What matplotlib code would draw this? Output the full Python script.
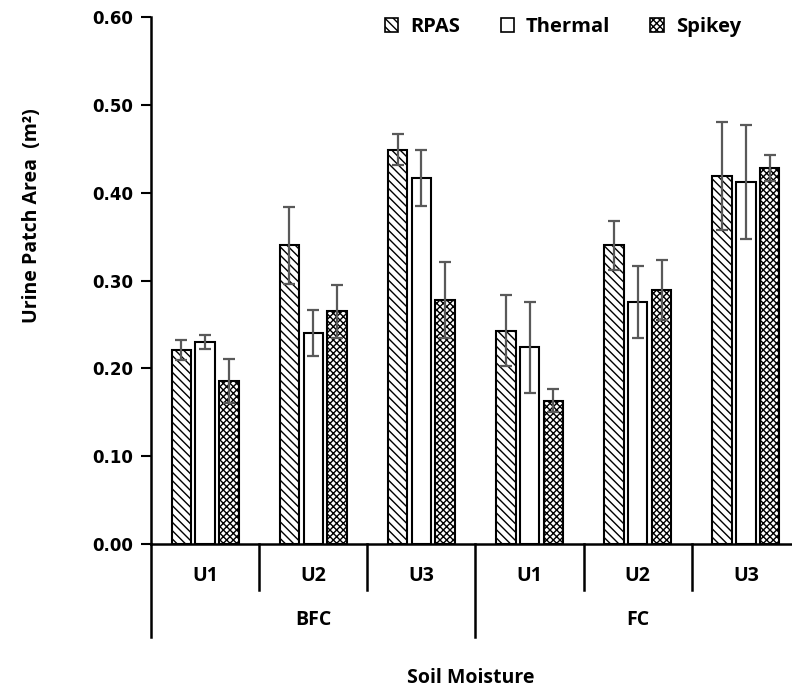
import numpy as np
import matplotlib
matplotlib.use("Agg")
import matplotlib.pyplot as plt
from matplotlib.patches import Patch
from matplotlib.transforms import blended_transform_factory

# data
moisture = ["BFC", "FC"]
urine = ["U1", "U2", "U3"]
series = ["RPAS", "Thermal", "Spikey"]

rpas = [0.221, 0.340, 0.449, 0.243, 0.340, 0.419]
thermal = [0.230, 0.240, 0.417, 0.224, 0.276, 0.412]
spikey = [0.186, 0.265, 0.278, 0.163, 0.289, 0.428]

rpas_err = [0.011, 0.044, 0.018, 0.040, 0.028, 0.061]
thermal_err = [0.008, 0.026, 0.032, 0.052, 0.041, 0.065]
spikey_err = [0.025, 0.030, 0.043, 0.013, 0.034, 0.015]

plt.rcParams['hatch.linewidth'] = 1.0
lab_font = ['Open Sans', 'DejaVu Sans']

fig = plt.figure(figsize=(7.92, 6.93), dpi=100)
ax = fig.add_axes([151 / 792, 1 - 544 / 693, 649 / 792, 527 / 693])

x = np.arange(len(rpas))
w = 0.18
step = 0.22
styles = [
    dict(facecolor="white", hatch="\\\\\\\\"),
    dict(facecolor="white", hatch=None),
    dict(facecolor="white", hatch="xxxxx"),
]
vals = [rpas, thermal, spikey]
errs = [rpas_err, thermal_err, spikey_err]

for i in range(3):
    xi = x + (i - 1) * step
    ax.bar(xi, vals[i], width=w, edgecolor="black", linewidth=1.5, zorder=2, **styles[i])
    ax.errorbar(xi, vals[i], yerr=errs[i], fmt="none", ecolor="#595959",
                elinewidth=1.6, capsize=4, capthick=1.6, zorder=3)

ax.set_xlim(-0.5, 5.5)
ax.set_ylim(0, 0.6)
ax.set_yticks(np.arange(0, 0.61, 0.1))
ax.set_yticklabels(["%.2f" % v for v in np.arange(0, 0.61, 0.1)],
                   fontsize=12, fontweight="bold", family="DejaVu Sans")
ax.tick_params(axis="y", direction="out", length=7, width=1.5, pad=6)
ax.set_xticks([])
for s in ["top", "right"]:
    ax.spines[s].set_visible(False)
ax.spines["left"].set_linewidth(1.8)
ax.spines["bottom"].set_linewidth(1.8)

# multi-level category axis
tr = blended_transform_factory(ax.transData, ax.transAxes)
for k in range(7):
    xd = k - 0.5
    low = -0.1765 if k % 3 == 0 else -0.0873
    ax.plot([xd, xd], [0, low], transform=tr, color="black", lw=1.8, clip_on=False)
for k in range(6):
    ax.text(k, -0.0607, urine[k % 3], transform=tr, ha="center", va="center",
            fontsize=14, fontweight="bold", family=lab_font)
for g in range(2):
    ax.text(g * 3 + 1, -0.144, moisture[g], transform=tr, ha="center", va="center",
            fontsize=14, fontweight="bold", family=lab_font)

fig.text(471 / 792, 1 - 678 / 693, "Soil Moisture", ha="center", va="center",
         fontsize=14, fontweight="bold", family=lab_font)
fig.text(32 / 792, 1 - 216 / 693, "Urine Patch Area  (m²)", ha="center", va="center",
         rotation=90, fontsize=14, fontweight="bold", family=lab_font)

handles = [Patch(edgecolor="black", linewidth=1.2, **styles[i]) for i in range(3)]
fig.legend(handles, series, loc="center", bbox_to_anchor=(563 / 792, 1 - 27 / 693),
           ncol=3, frameon=False, prop=dict(family=lab_font, weight="bold", size=14.5),
           handlelength=0.65, handleheight=0.65, handletextpad=0.6, columnspacing=2.0)

fig.savefig("out.png", dpi=100)
